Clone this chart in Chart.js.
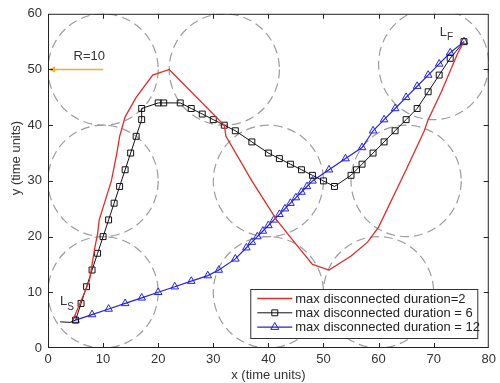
<!DOCTYPE html>
<html>
<head>
<meta charset="utf-8">
<script src="https://cdn.jsdelivr.net/npm/chart.js@4.4.0/dist/chart.umd.min.js"></script>
<style>
html, body { margin: 0; padding: 0; background: #fff; }
#wrap { width: 500px; height: 383px; }
</style>
</head>
<body>
<div id="wrap"><canvas id="c"></canvas></div>
<script>
const xTicks = [0, 10, 20, 30, 40, 50, 60, 70, 80];
const yTicks = [0, 10, 20, 30, 40, 50, 60];

// max disconnected duration = 2
const dur2X = [4.5, 7.5, 8.5, 9, 9.3, 11.5, 12.5, 13, 14, 16, 19, 22, 32, 32.3, 37, 41.5, 44.3, 48, 51, 55, 58, 60, 65, 68.3, 69, 71.4, 74.4, 75.5];
const dur2Y = [5, 12, 18, 20.5, 23, 30, 35, 38, 41.5, 45, 49, 50, 40, 38, 30, 23, 19.5, 15, 14, 16.5, 19, 21.7, 32, 39, 41, 46, 53, 55];

// max disconnected duration = 6
const dur6X = [2.2, 4, 5, 6, 7, 8, 9, 10, 11, 12, 13, 14, 15, 16, 17, 17, 20, 21, 24, 26, 28, 30, 32, 34, 37, 40, 42, 44, 46, 48, 50, 52, 55, 56, 57, 59, 61, 63, 65, 67, 69, 71, 73, 75.5];
const dur6Y = [4.7, 4.6, 5, 8, 11, 14, 17, 20, 23, 26, 29, 32, 35, 38, 41, 43, 44, 44, 44, 43, 42, 41, 40, 39, 37, 35, 34, 33, 32, 31, 30, 29, 31, 32, 33, 35, 37, 39, 41, 43, 46, 49, 52, 55];

// max disconnected duration = 12
const dur12X = [5, 8, 11, 14, 17, 20, 23, 26, 29, 31, 34, 36, 37, 38, 39, 40, 41, 42, 43, 44, 45, 46, 47, 48, 51, 54, 57, 59, 61, 63, 65, 67, 69, 71, 73, 75.5];
const dur12Y = [5, 6, 7, 8, 9, 10, 11, 12, 13, 14, 16, 18, 19, 20, 21, 22, 23, 24, 25, 26, 27, 28, 29, 30, 32, 34, 36, 39, 41, 43, 45, 47, 49, 51, 53, 55];

// communication ranges (R = 10)
const circleX = [10, 32, 70, 10, 40, 65, 10, 40, 60];
const circleY = [50, 50, 51, 30, 30, 30, 10, 10, 10];
const circleR = 10;

const seriesLabels = ['max disconnected duration=2', 'max disconnected duration = 6', 'max disconnected duration = 12'];

const toPts = (xs, ys) => xs.map((v, i) => ({ x: v, y: ys[i] }));
const FONT = 'Liberation Sans, Arial, sans-serif';

const decor = {
  id: 'decor',
  beforeDatasetsDraw(chart) {
    const { ctx, chartArea: a, scales: { x, y } } = chart;
    ctx.save();
    ctx.beginPath();
    ctx.rect(a.left, a.top, a.right - a.left, a.bottom - a.top);
    ctx.clip();
    ctx.strokeStyle = '#9c9c9c';
    ctx.lineWidth = 1.2;
    ctx.setLineDash([9, 5]);
    circleX.forEach((cx, i) => {
      const px = x.getPixelForValue(cx), py = y.getPixelForValue(circleY[i]);
      const rx = x.getPixelForValue(cx + circleR) - px;
      const ry = py - y.getPixelForValue(circleY[i] + circleR);
      ctx.beginPath();
      ctx.ellipse(px, py, rx, ry, 0, 0, Math.PI * 2);
      ctx.stroke();
    });
    ctx.setLineDash([]);

    // radius arrow
    const ax0 = x.getPixelForValue(10), ax1 = x.getPixelForValue(0), ay = y.getPixelForValue(50);
    ctx.strokeStyle = '#f0b02c';
    ctx.fillStyle = '#f0b02c';
    ctx.lineWidth = 1.5;
    ctx.beginPath();
    ctx.moveTo(ax0, ay);
    ctx.lineTo(ax1 + 5, ay);
    ctx.stroke();
    ctx.beginPath();
    ctx.moveTo(ax1 + 0.5, ay);
    ctx.lineTo(ax1 + 7, ay - 3);
    ctx.lineTo(ax1 + 7, ay + 3);
    ctx.closePath();
    ctx.fill();

    ctx.fillStyle = '#333';
    ctx.font = '13px ' + FONT;
    ctx.textAlign = 'center';
    ctx.textBaseline = 'middle';
    ctx.fillText('R=10', x.getPixelForValue(7.5), y.getPixelForValue(52.3));
    ctx.restore();
  },
  afterDatasetsDraw(chart) {
    const { ctx, chartArea: a, scales: { x, y } } = chart;
    ctx.save();
    // start / finish labels
    ctx.fillStyle = '#333';
    ctx.textBaseline = 'middle';
    ctx.textAlign = 'left';
    const sub = (main, s, vx, vy) => {
      const px = x.getPixelForValue(vx), py = y.getPixelForValue(vy);
      ctx.font = '13px ' + FONT;
      ctx.fillText(main, px, py);
      const w = ctx.measureText(main).width;
      ctx.font = '10px ' + FONT;
      ctx.fillText(s, px + w, py + 5);
    };
    sub('L', 'S', 2.2, 8.3);
    sub('L', 'F', 71.1, 56.7);

    // axes box and inward ticks
    ctx.strokeStyle = '#222';
    ctx.lineWidth = 1;
    ctx.strokeRect(a.left + 0.5, a.top + 0.5, a.right - a.left - 1, a.bottom - a.top - 1);
    ctx.beginPath();
    xTicks.slice(1, -1).forEach(v => {
      const px = Math.round(x.getPixelForValue(v)) + 0.5;
      ctx.moveTo(px, a.bottom); ctx.lineTo(px, a.bottom - 5);
      ctx.moveTo(px, a.top); ctx.lineTo(px, a.top + 5);
    });
    yTicks.slice(1, -1).forEach(v => {
      const py = Math.round(y.getPixelForValue(v)) + 0.5;
      ctx.moveTo(a.left, py); ctx.lineTo(a.left + 5, py);
      ctx.moveTo(a.right, py); ctx.lineTo(a.right - 5, py);
    });
    ctx.stroke();

    // legend inside the plot
    const bw = 227, bh = 49;
    const bx = a.right - 238.5, by = a.bottom - 59;
    ctx.fillStyle = '#fff';
    ctx.fillRect(bx, by, bw, bh);
    ctx.strokeStyle = '#333';
    ctx.strokeRect(bx + 0.5, by + 0.5, bw, bh);
    ctx.font = '13px ' + FONT;
    ctx.textAlign = 'left';
    ctx.textBaseline = 'middle';
    chart.data.datasets.forEach((ds, i) => {
      const ry = by + 9.5 + i * 14.3;
      ctx.strokeStyle = ds.borderColor;
      ctx.lineWidth = ds.borderWidth;
      ctx.beginPath();
      ctx.moveTo(bx + 7, ry);
      ctx.lineTo(bx + 42, ry);
      ctx.stroke();
      if (ds.pointStyle) {
        ctx.fillStyle = 'rgba(0,0,0,0)';
        ctx.lineWidth = 1;
        Chart.helpers.drawPoint(ctx, { pointStyle: ds.pointStyle, radius: ds.legendRadius, rotation: 0, borderWidth: 1 }, bx + 24.5, ry);
      }
      ctx.fillStyle = '#222';
      ctx.fillText(seriesLabels[i], bx + 45, ry + 0.5);
    });

    // axis titles
    ctx.fillStyle = '#333';
    ctx.font = '13px ' + FONT;
    ctx.textAlign = 'center';
    ctx.fillText('x (time units)', (a.left + a.right) / 2, 375.5);
    ctx.translate(16, 158);
    ctx.rotate(-Math.PI / 2);
    ctx.fillText('y (time units)', 0, 0);
    ctx.restore();
  }
};

new Chart(document.getElementById('c'), {
  type: 'scatter',
  data: {
    datasets: [
      {
        label: seriesLabels[0],
        data: toPts(dur2X, dur2Y),
        showLine: true,
        borderColor: '#e62a2a',
        borderWidth: 1.3,
        pointRadius: 0,
        pointStyle: false
      },
      {
        label: seriesLabels[1],
        data: toPts(dur6X, dur6Y),
        showLine: true,
        borderColor: '#111',
        borderWidth: 1,
        pointStyle: 'rect',
        pointRadius: c => (c.dataIndex < 2 ? 0 : 4.2),
        legendRadius: 4.2,
        pointBorderWidth: 1,
        pointBorderColor: '#111',
        pointBackgroundColor: 'rgba(0,0,0,0)'
      },
      {
        label: seriesLabels[2],
        data: toPts(dur12X, dur12Y),
        showLine: true,
        borderColor: '#2222e6',
        borderWidth: 1.2,
        pointStyle: 'triangle',
        pointRadius: 4.4,
        legendRadius: 4.6,
        pointBorderWidth: 1,
        pointBorderColor: '#2222e6',
        pointBackgroundColor: 'rgba(0,0,0,0)'
      }
    ]
  },
  options: {
    responsive: true,
    maintainAspectRatio: false,
    animation: false,
    layout: { padding: { top: 13, right: 8.5, left: 0, bottom: 0 } },
    plugins: { legend: { display: false }, tooltip: { enabled: false } },
    scales: {
      x: {
        type: 'linear',
        min: 0,
        max: 80,
        grid: { display: false, drawTicks: false },
        border: { display: false },
        afterBuildTicks: s => { s.ticks = xTicks.map(v => ({ value: v })); },
        afterFit: s => { s.height = 35; },
        ticks: { color: '#333', font: { family: FONT, size: 13 }, padding: 4, maxRotation: 0 }
      },
      y: {
        type: 'linear',
        min: 0,
        max: 60,
        grid: { display: false, drawTicks: false },
        border: { display: false },
        afterBuildTicks: s => { s.ticks = yTicks.map(v => ({ value: v })); },
        afterFit: s => { s.width = 48; },
        ticks: { color: '#333', font: { family: FONT, size: 13 }, padding: 6 }
      }
    }
  },
  plugins: [decor]
});
</script>
</body>
</html>
